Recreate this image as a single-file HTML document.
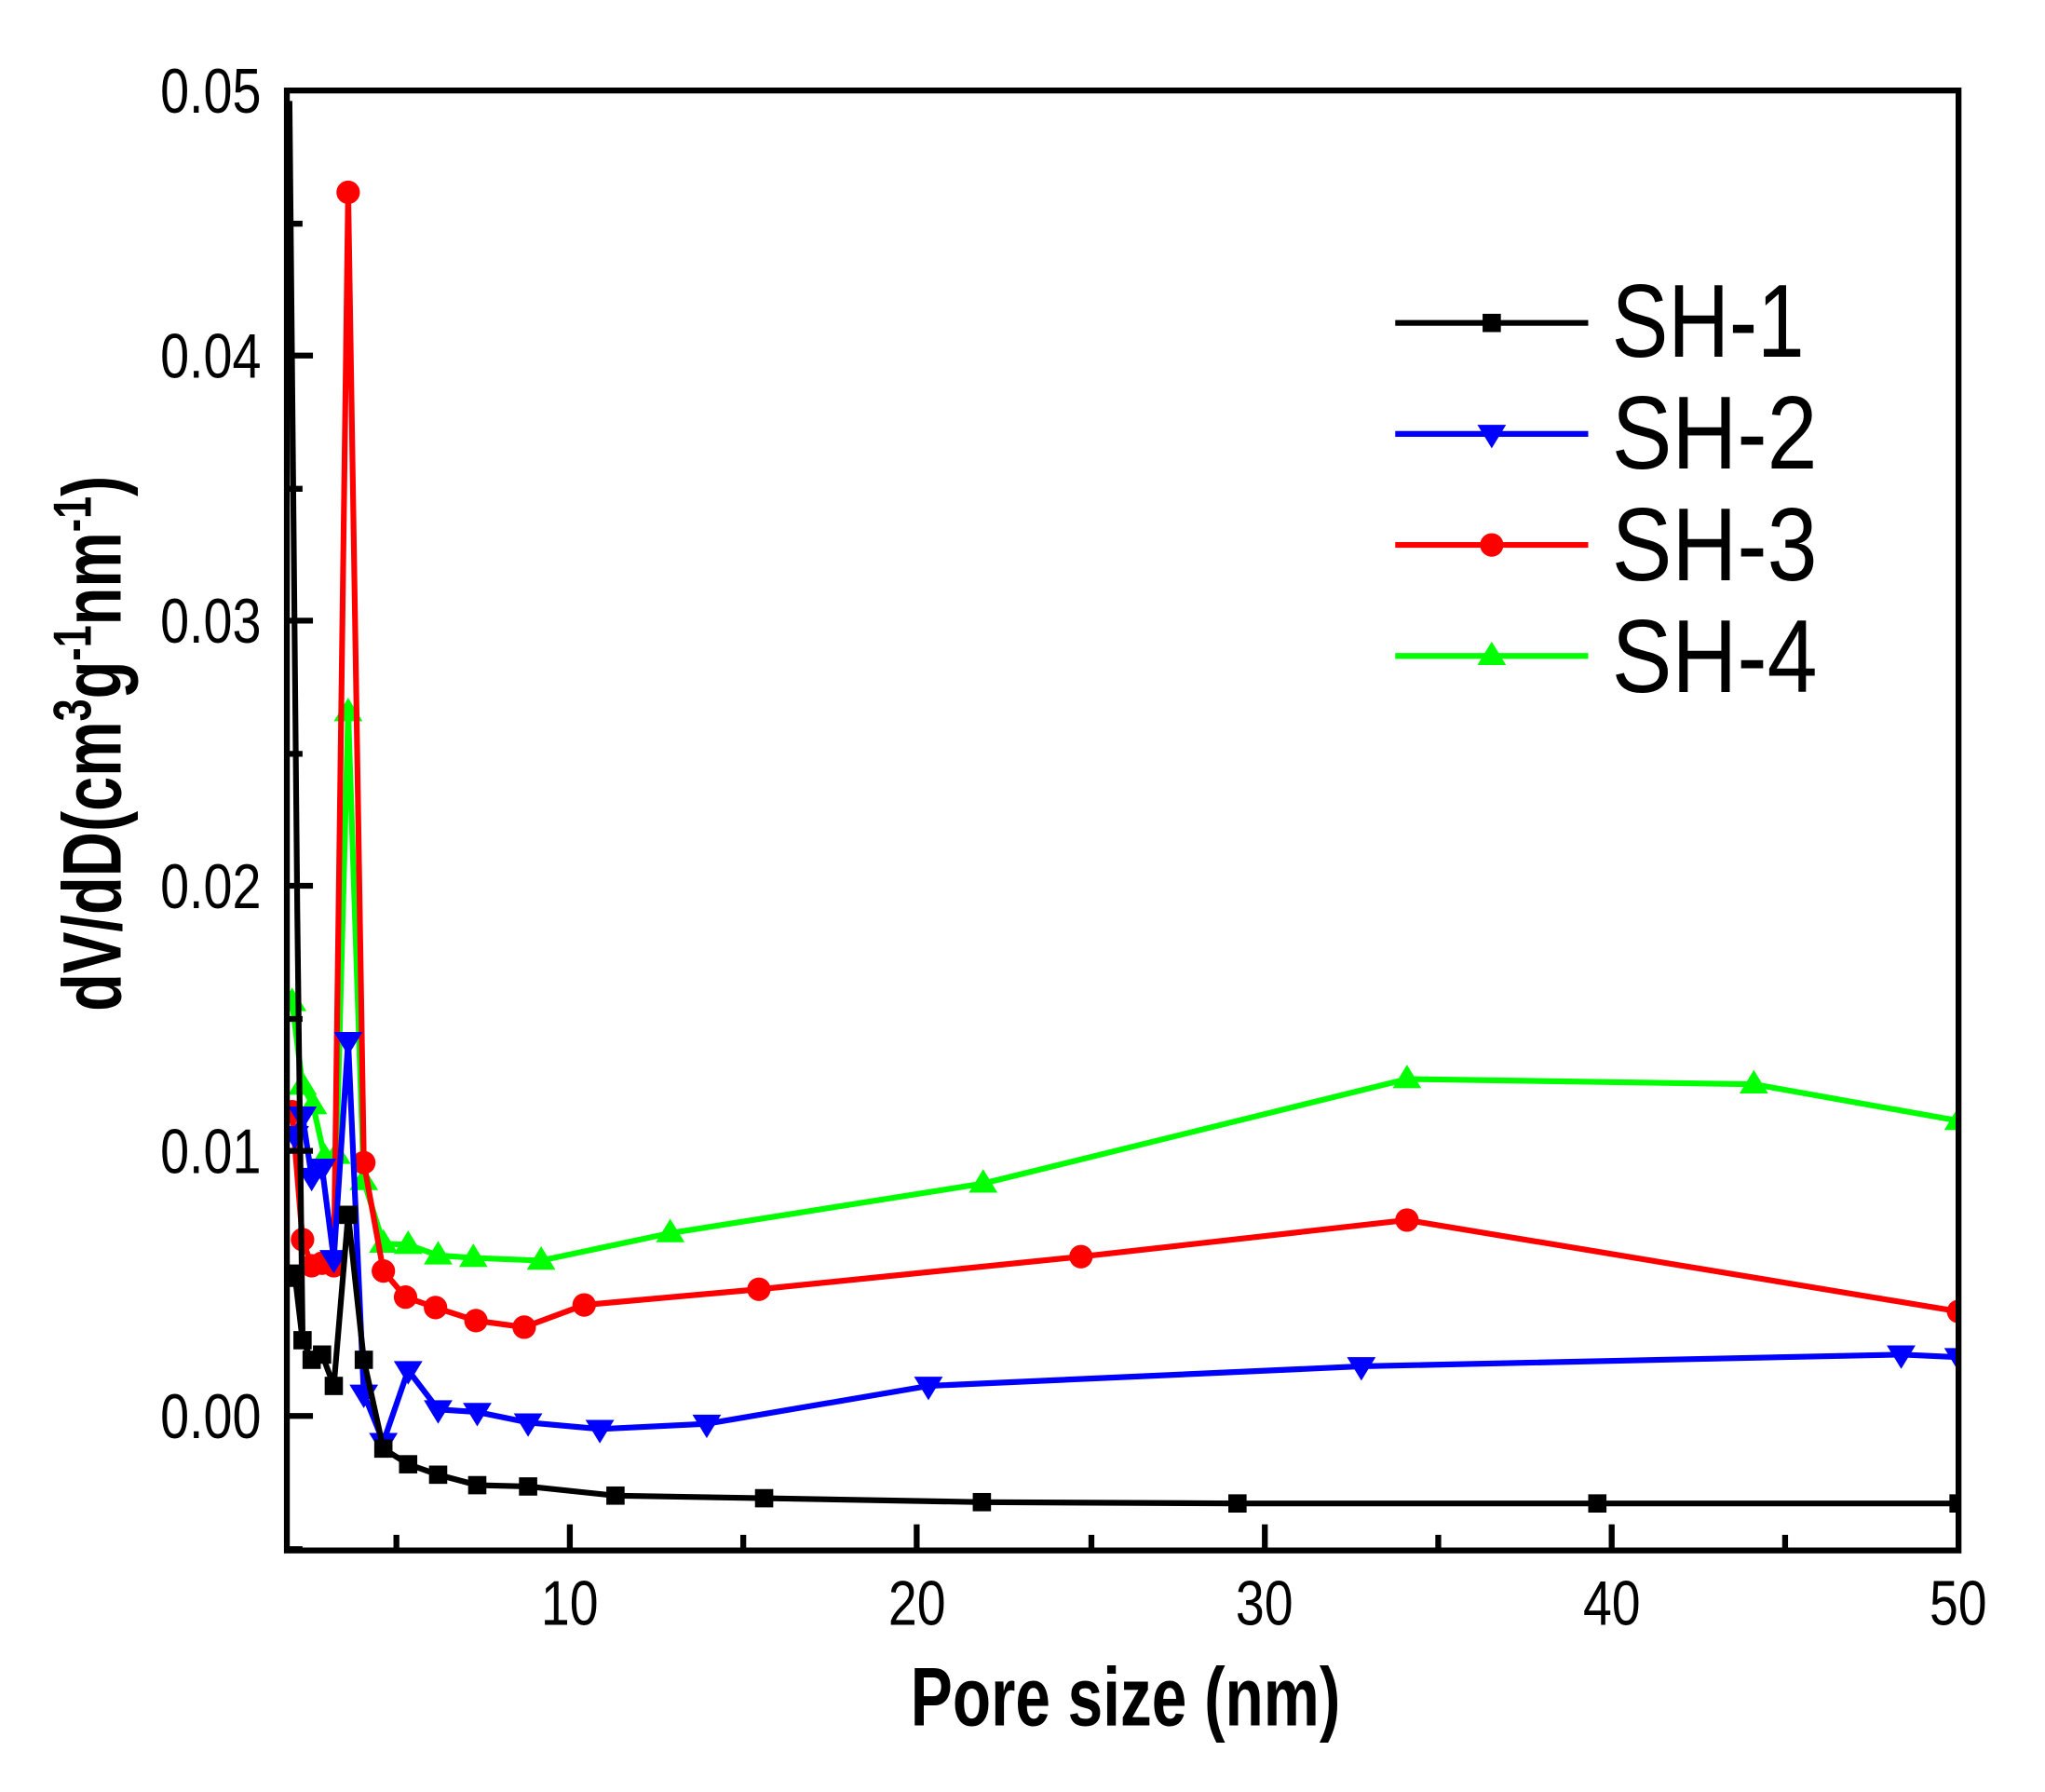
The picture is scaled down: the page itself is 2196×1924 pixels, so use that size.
<!DOCTYPE html>
<html><head><meta charset="utf-8"><style>html,body{margin:0;padding:0;background:#fff}svg{display:block}</style></head><body>
<svg width="2196" height="1924" viewBox="0 0 2196 1924" xmlns="http://www.w3.org/2000/svg" font-family="Liberation Sans, Arial, sans-serif">
<defs>
<marker id="sq" markerUnits="userSpaceOnUse" viewBox="-10 -10 20 20" markerWidth="20" markerHeight="20" refX="0" refY="0"><rect x="-7" y="-7" width="14" height="14" fill="#000"/></marker>
<marker id="dn" markerUnits="userSpaceOnUse" viewBox="-14 -14 28 28" markerWidth="28" markerHeight="28" refX="0" refY="0"><path d="M-11,-7 L11,-7 L0,11 Z" fill="#0000ff"/></marker>
<marker id="ci" markerUnits="userSpaceOnUse" viewBox="-12 -12 24 24" markerWidth="24" markerHeight="24" refX="0" refY="0"><circle r="9" fill="#ff0000"/></marker>
<marker id="up" markerUnits="userSpaceOnUse" viewBox="-14 -14 28 28" markerWidth="28" markerHeight="28" refX="0" refY="0"><path d="M-11,7 L11,7 L0,-11 Z" fill="#00ff00"/></marker>
<clipPath id="cp"><rect x="220" y="70" width="1282" height="1118"/></clipPath>
</defs>
<g transform="scale(0.9947 0.9917)">
<g transform="matrix(1.4077 0 0 1.4138 0 -1)">
<g clip-path="url(#cp)" fill="none" stroke-width="4.4" stroke-linejoin="round">
<polyline stroke="#00ff00" marker-start="url(#up)" marker-mid="url(#up)" marker-end="url(#up)" points="224,768 232,832 240,847 249,887 258,885 267,546 279,905 294,953 313,954 336,962 363,964 415,966 514,945 754,907 1079,827 1345,831 1502,859"/>
<polyline stroke="#ff0000" marker-start="url(#ci)" marker-mid="url(#ci)" marker-end="url(#ci)" points="224,852 232,950 239,970 247,968 256,970 267,148 279,891 294,974 311,994 334,1002 365,1012 402,1017 448,1000 582,988 829,963 1079,935 1502,1005"/>
<polyline stroke="#0000ff" marker-start="url(#dn)" marker-mid="url(#dn)" marker-end="url(#dn)" points="226,870 232,855 239,902 247,895 256,965 267,798 279,1068 294,1105 313,1050 336,1080 366,1082 405,1090 460,1095 542,1091 712,1062 1044,1047 1458,1038 1502,1040"/>
<polyline stroke="#000" points="222,78 228,700 232,1020"/>
<polyline stroke="#000" marker-start="url(#sq)" marker-mid="url(#sq)" marker-end="url(#sq)" points="226,976 232,1027 239,1042 247,1038 256,1062 267,931 279,1042 294,1110 313,1122 336,1130 366,1138 405,1139 472,1146 586,1148 753,1151 949,1152 1225,1152 1502,1152"/>
</g>
<g stroke="#000" stroke-width="4.5" fill="none">
<rect x="220" y="70" width="1282" height="1118"/>
<path d="M220,172h12M220,375h12M220,578h12M220,781h12M220,984h12M220,1187h12 M220,273h20M220,476h20M220,679h20M220,882h20M220,1085h20"/>
<path d="M304,1188v-12M570,1188v-12M837,1188v-12M1103,1188v-12M1369,1188v-12 M437,1188v-20M703,1188v-20M970,1188v-20M1236,1188v-20"/>
</g>
<g stroke-width="4.4">
<polyline points="1070,248 1144,248 1218,248" fill="none" stroke="#000" marker-mid="url(#sq)"/>
<polyline points="1070,333 1144,333 1218,333" fill="none" stroke="#0000ff" marker-mid="url(#dn)"/>
<polyline points="1070,418 1144,418 1218,418" fill="none" stroke="#ff0000" marker-mid="url(#ci)"/>
<polyline points="1070,503 1144,503 1218,503" fill="none" stroke="#00ff00" marker-mid="url(#up)"/>
</g>
</g>
<g font-size="112" fill="#000">
<text x="1740" y="386" textLength="208" lengthAdjust="spacingAndGlyphs">SH-1</text>
<text x="1740" y="507" textLength="222" lengthAdjust="spacingAndGlyphs">SH-2</text>
<text x="1740" y="628" textLength="222" lengthAdjust="spacingAndGlyphs">SH-3</text>
<text x="1740" y="749" textLength="222" lengthAdjust="spacingAndGlyphs">SH-4</text>
</g>
<g font-size="68" fill="#000" text-anchor="end">
<text x="282" y="122" textLength="109" lengthAdjust="spacingAndGlyphs">0.05</text>
<text x="282" y="409" textLength="109" lengthAdjust="spacingAndGlyphs">0.04</text>
<text x="282" y="696" textLength="109" lengthAdjust="spacingAndGlyphs">0.03</text>
<text x="282" y="983" textLength="109" lengthAdjust="spacingAndGlyphs">0.02</text>
<text x="282" y="1270" textLength="109" lengthAdjust="spacingAndGlyphs">0.01</text>
<text x="282" y="1557" textLength="109" lengthAdjust="spacingAndGlyphs">0.00</text>
</g>
<g font-size="68" fill="#000" text-anchor="middle">
<text x="615" y="1759" textLength="62" lengthAdjust="spacingAndGlyphs">10</text>
<text x="990" y="1759" textLength="62" lengthAdjust="spacingAndGlyphs">20</text>
<text x="1365" y="1759" textLength="62" lengthAdjust="spacingAndGlyphs">30</text>
<text x="1740" y="1759" textLength="62" lengthAdjust="spacingAndGlyphs">40</text>
<text x="2114" y="1759" textLength="62" lengthAdjust="spacingAndGlyphs">50</text>
</g>
<text x="983" y="1868" font-size="90" font-weight="bold" textLength="464" lengthAdjust="spacingAndGlyphs">Pore size (nm)</text>
<text transform="translate(130,805) rotate(-90)" text-anchor="middle" font-size="90" font-weight="bold" textLength="580" lengthAdjust="spacingAndGlyphs">dV/dD(cm<tspan font-size="58" dy="-32">3</tspan><tspan dy="32">g</tspan><tspan font-size="58" dy="-32">-1</tspan><tspan dy="32">nm</tspan><tspan font-size="58" dy="-32">-1</tspan><tspan dy="32">)</tspan></text>
</g>
</svg>
</body></html>
